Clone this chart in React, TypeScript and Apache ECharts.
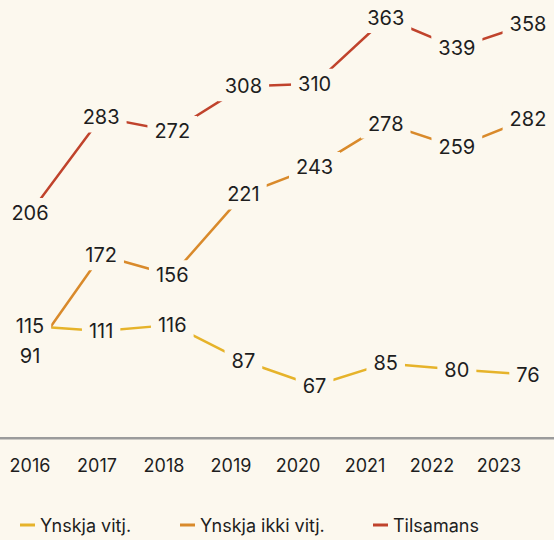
import React, { useEffect, useRef } from "react";
import * as echarts from "echarts";

const years = ["2016", "2017", "2018", "2019", "2020", "2021", "2022", "2023"];
const ynskjaVitj = [115, 111, 116, 87, 67, 85, 80, 76];
const ynskjaIkkiVitj = [91, 172, 156, 221, 243, 278, 259, 282];
const tilsamans = [206, 283, 272, 308, 310, 363, 339, 358];

const seriesNames = ["Ynskja vitj.", "Ynskja ikki vitj.", "Tilsamans"];
const seriesData = [ynskjaVitj, ynskjaIkkiVitj, tilsamans];
const colors = ["#e6b32a", "#d98a2b", "#c0432c"];

const BG = "#fcf8ee";
const FONT = "Inter, 'Noto Sans', sans-serif";

export default function App() {
  const ref = useRef<HTMLDivElement>(null);
  useEffect(() => {
    document.body.style.margin = "0";
    document.body.style.background = BG;
    const chart = echarts.init(ref.current!, null, { renderer: "svg" });
    const lineSeries = seriesNames.map((name, i) => ({
      name,
      type: "line",
      data: seriesData[i],
      xAxisIndex: 0,
      yAxisIndex: 0,
      symbol: "none",
      clip: false,
      silent: true,
      z: 2,
      lineStyle: { color: colors[i], width: 2.5 },
      itemStyle: { color: colors[i] },
    }));
    const labelSeries = seriesNames.map((name, i) => ({
      name: name + " labels",
      type: "scatter",
      data: seriesData[i],
      xAxisIndex: 0,
      yAxisIndex: 0,
      symbolSize: 1,
      silent: true,
      z: 5,
      itemStyle: { color: "rgba(0,0,0,0)", opacity: 1 },
      label: {
        show: true,
        position: "inside",
        opacity: 1,
        formatter: (p: any) => String(Array.isArray(p.value) ? p.value[1] : p.value),
        color: "#1e1e1e",
        fontSize: 20,
        fontFamily: FONT,
        backgroundColor: BG,
        padding: [5, 7],
      },
    }));
    const legendBase = {
      top: 511,
      icon: "rect",
      itemWidth: 15,
      itemHeight: 3,
      itemGap: 10,
      textStyle: { fontSize: 18, color: "#1e1e1e", fontFamily: FONT },
      selectedMode: false,
    };
    chart.setOption({
      animation: false,
      backgroundColor: BG,
      textStyle: { fontFamily: FONT },
      grid: [
        { left: 30, right: 26, top: 18, bottom: 71 },
        { left: 30, right: 55, top: 438, height: 10 },
      ],
      xAxis: [
        {
          type: "category",
          gridIndex: 0,
          data: years,
          boundaryGap: false,
          show: false,
        },
        {
          type: "category",
          gridIndex: 1,
          data: years,
          boundaryGap: false,
          axisLine: { show: false },
          axisTick: { show: false },
          axisLabel: { fontSize: 18, color: "#1e1e1e", fontFamily: FONT, margin: 8 },
        },
      ],
      yAxis: [
        { type: "value", gridIndex: 0, min: 0, max: 363, show: false },
        { type: "value", gridIndex: 1, show: false },
      ],
      legend: [
        { ...legendBase, left: 15, data: [seriesNames[0]] },
        { ...legendBase, left: 175, data: [seriesNames[1]] },
        { ...legendBase, left: 368, data: [seriesNames[2]] },
      ],
      graphic: [
        {
          type: "rect",
          left: 0,
          top: 437,
          shape: { width: 554, height: 2.5 },
          style: { fill: "#9b9b9b" },
          silent: true,
        },
      ],
      series: [...lineSeries, ...labelSeries],
    });
    return () => chart.dispose();
  }, []);
  return (
    <div
      ref={ref}
      style={{ position: "fixed", left: 0, top: 0, width: 554, height: 540, background: BG }}
    />
  );
}
